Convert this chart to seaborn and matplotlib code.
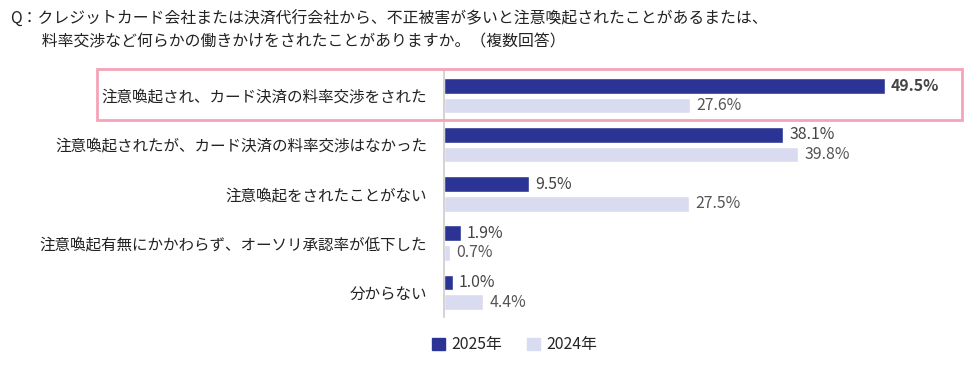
import pandas as pd
import matplotlib.pyplot as plt
import matplotlib.patches as mpatches
import seaborn as sns

# data
categories = [
    "注意喚起され、カード決済の料率交渉をされた",
    "注意喚起されたが、カード決済の料率交渉はなかった",
    "注意喚起をされたことがない",
    "注意喚起有無にかかわらず、オーソリ承認率が低下した",
    "分からない",
]
values_2025 = [49.5, 38.1, 9.5, 1.9, 1.0]
values_2024 = [27.6, 39.8, 27.5, 0.7, 4.4]
years = ["2025年", "2024年"]

title = ("Q：クレジットカード会社または決済代行会社から、不正被害が多いと注意喚起されたことがあるまたは、\n"
         "　　料率交渉など何らかの働きかけをされたことがありますか。（複数回答）")

dark = "#2B3494"
light = "#D9DBF1"

df = pd.DataFrame({
    "category": categories * 2,
    "value": values_2025 + values_2024,
    "year": [years[0]] * len(categories) + [years[1]] * len(categories),
})

sns.set_theme(style="white")
plt.rcParams['font.family'] = ['Noto Sans CJK JP', 'DejaVu Sans']

fig = plt.figure(figsize=(9.8, 3.68), dpi=100)
ax = fig.add_axes([0.453, 0.139, 0.527, 0.668])

sns.barplot(data=df, y="category", x="value", hue="year", orient="h",
            palette={years[0]: dark, years[1]: light}, width=0.8, gap=0.2,
            saturation=1, ax=ax, legend=False)

ax.set_xlim(0, 58)
ax.set_ylim(4.5, -0.5)
ax.set_xlabel("")
ax.set_ylabel("")
ax.set_xticks([])
ax.tick_params(axis="y", length=0, pad=12, labelsize=11.2, labelcolor="#222222")
for s in ["top", "right", "bottom"]:
    ax.spines[s].set_visible(False)
ax.spines["left"].set_color("#cccccc")
ax.spines["left"].set_linewidth(1.2)

# value labels
for i, (v25, v24) in enumerate(zip(values_2025, values_2024)):
    ax.text(v25 + 0.7, i - 0.2, f"{v25:.1f}%", va="center", ha="left",
            fontsize=11.4, color="#444444",
            fontweight="bold" if i == 0 else "normal")
    ax.text(v24 + 0.7, i + 0.2, f"{v24:.1f}%", va="center", ha="left",
            fontsize=11.4, color="#555555")

# highlight box around first item
fig.patches.append(mpatches.Rectangle((97 / 980, 1 - 120 / 368), 865 / 980, 51 / 368,
                                      transform=fig.transFigure, fill=False,
                                      edgecolor="#F4A3B8", linewidth=2))

fig.text(0.010, 1 - 11 / 368, title, ha="left", va="top", fontsize=11.4,
         color="#222222", linespacing=1.4)

handles = [mpatches.Patch(color=dark, label=years[0]),
           mpatches.Patch(color=light, label=years[1])]
fig.legend(handles=handles, loc="center", bbox_to_anchor=(0.525, 1 - 345 / 368),
           ncol=2, frameon=False, fontsize=11.4, handlelength=0.8, handleheight=0.8,
           handletextpad=0.4, columnspacing=1.6)

fig.savefig("out.png", dpi=100)
